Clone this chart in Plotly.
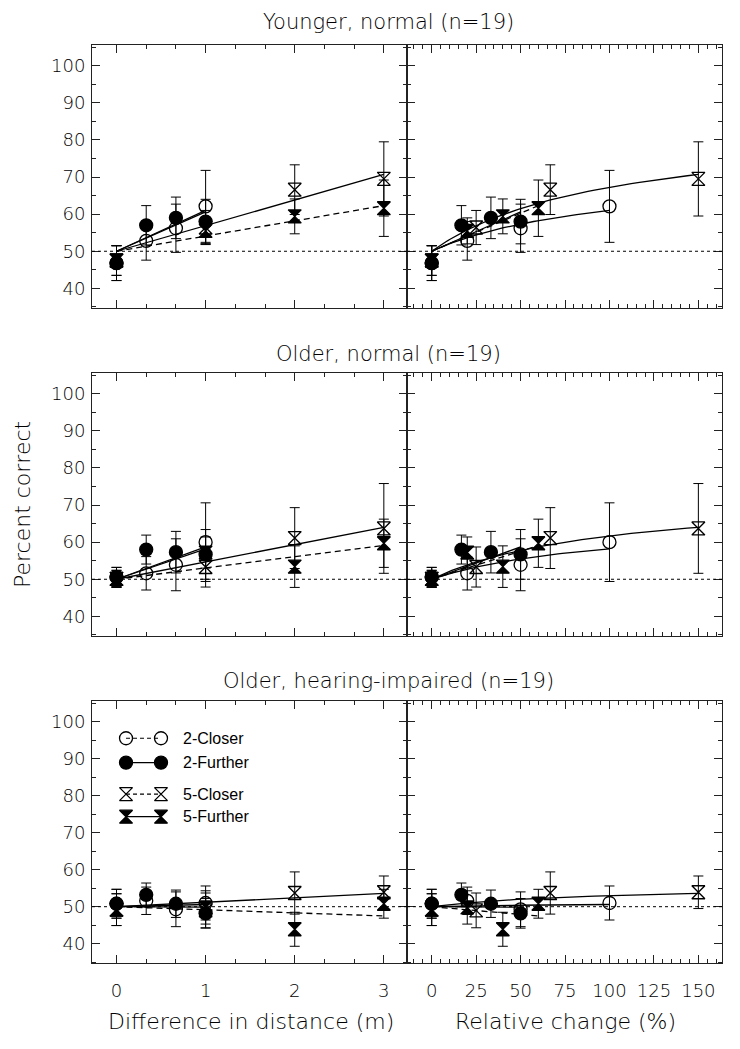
import numpy as np
import plotly.graph_objects as go

# page offset of the plot div (body margin) and figure size
OFF = 8
W, H = 740 - 2 * OFF, 1049 - 2 * OFF

# ---------------- data ----------------
GROUP_TITLES = ["Younger, normal (n=19)", "Older, normal (n=19)", "Older, hearing-impaired (n=19)"]
CONDITIONS = ["2-Closer", "2-Further", "5-Closer", "5-Further"]
CHANCE = 50

# difference in distance (m) and relative change (%) for each condition
DIST_2C = [0, 1/3, 2/3, 1]
DIST_2F = [0, 1/3, 2/3, 1]
DIST_5C = [0, 1, 2, 3]
DIST_5F = [0, 1, 2, 3]
REL_2C = [0, 20, 50, 100]
REL_2F = [0, 16.7, 33.3, 50]
REL_5C = [0, 25, 66.7, 150]
REL_5F = [0, 20, 40, 60]
REF_DIST = {"2-Closer": 2, "2-Further": 2, "5-Closer": 5, "5-Further": 5}

# Younger, normal
YN_2C = [46.8, 52.8, 56.2, 62.1]; YN_2C_ERR = [4.7, 5.2, 6.5, 9.7]
YN_2F = [46.8, 57.0, 59.0, 58.0]; YN_2F_ERR = [4.7, 5.3, 5.6, 6.0]
YN_5C = [47.5, 56.4, 66.6, 69.5]; YN_5C_ERR = [4.0, 4.6, 6.7, 10.0]
YN_5F = [47.5, 55.5, 59.4, 61.6]; YN_5F_ERR = [4.0, 3.5, 4.7, 7.6]
YN_FIT_END = [61.0, 60.6, 70.7, 62.3]

# Older, normal
ON_2C = [50.6, 51.6, 53.9, 60.0]; ON_2C_ERR = [2.6, 4.5, 7.0, 10.6]
ON_2F = [50.6, 58.0, 57.3, 56.7]; ON_2F_ERR = [2.6, 3.9, 5.6, 6.7]
ON_5C = [50.1, 53.3, 61.1, 63.7]; ON_5C_ERR = [2.3, 5.4, 8.2, 12.1]
ON_5F = [50.1, 57.2, 53.4, 59.7]; ON_5F_ERR = [2.3, 4.2, 5.6, 6.5]
ON_FIT_END = [58.2, 58.7, 64.0, 59.1]

# Older, hearing-impaired
HI_2C = [50.8, 51.6, 49.3, 51.0]; HI_2C_ERR = [3.9, 3.7, 4.7, 4.6]
HI_2F = [50.8, 53.2, 50.8, 48.2]; HI_2F_ERR = [3.9, 3.2, 3.7, 4.0]
HI_5C = [49.2, 49.0, 53.7, 53.9]; HI_5C_ERR = [4.3, 4.7, 5.7, 4.4]
HI_5F = [49.2, 49.8, 43.9, 50.8]; HI_5F_ERR = [4.3, 4.5, 4.6, 3.9]
HI_FIT_END = [50.6, 49.9, 53.6, 47.5]

LEFT_TICKS = [0, 1, 2, 3]
RIGHT_TICKS = [0, 25, 50, 75, 100, 125, 150]
Y_TICKS = [40, 50, 60, 70, 80, 90, 100]

# ---------------- assembly ----------------
DIST = {"2-Closer": DIST_2C, "2-Further": DIST_2F, "5-Closer": DIST_5C, "5-Further": DIST_5F}
REL = {"2-Closer": REL_2C, "2-Further": REL_2F, "5-Closer": REL_5C, "5-Further": REL_5F}
GROUPS = [
    {"2-Closer": (YN_2C, YN_2C_ERR), "2-Further": (YN_2F, YN_2F_ERR),
     "5-Closer": (YN_5C, YN_5C_ERR), "5-Further": (YN_5F, YN_5F_ERR), "fit": YN_FIT_END},
    {"2-Closer": (ON_2C, ON_2C_ERR), "2-Further": (ON_2F, ON_2F_ERR),
     "5-Closer": (ON_5C, ON_5C_ERR), "5-Further": (ON_5F, ON_5F_ERR), "fit": ON_FIT_END},
    {"2-Closer": (HI_2C, HI_2C_ERR), "2-Further": (HI_2F, HI_2F_ERR),
     "5-Closer": (HI_5C, HI_5C_ERR), "5-Further": (HI_5F, HI_5F_ERR), "fit": HI_FIT_END},
]

SYMBOL = {"2-Closer": "circle-open", "2-Further": "circle",
          "5-Closer": "hourglass-open", "5-Further": "hourglass"}
FIT_DASH = {"2-Closer": "solid", "2-Further": "solid", "5-Closer": "solid", "5-Further": "6px,4px"}
LEG_DASH = {"2-Closer": "4px,3px", "2-Further": "solid", "5-Closer": "4px,3px", "5-Further": "solid"}


def rel_change(cond, d):
    d0 = REF_DIST[cond]
    d = np.asarray(d, dtype=float)
    if "Closer" in cond:
        return 100 * d / (d0 - d)
    return 100 * d / d0


def fx(px):
    return (px - OFF) / W


def fy(py):
    return 1 - (py - OFF) / H


FONT = "DejaVu Sans"
INK = "#000000"
TXT = dict(family=FONT, size=21, color=INK, weight=200)
AXT = dict(family=FONT, size=22, color=INK, weight=200)

fig = go.Figure()

COL_DOM = [[fx(92), fx(407)], [fx(407), fx(722)]]
ROW_PX = [(45, 308), (373, 636), (701, 963.3)]
XL_RANGE = [-0.275, 3.26]
XR_RANGE = [-13.9, 163.3]
Y_RANGE = [34.7, 105.6]


def ax_id(p, letter):
    return letter if p == 1 else f"{letter}{p}"


layout_axes = {}
shapes = []
for gi, grp in enumerate(GROUPS):
    top_px, bot_px = ROW_PX[gi]
    ydom = [fy(bot_px), fy(top_px)]
    for c in range(2):
        p = 2 * gi + c + 1
        xa, ya = ax_id(p, "x"), ax_id(p, "y")
        common = dict(showline=True, linecolor="#222222", linewidth=1, mirror="allticks",
                      ticks="inside", ticklen=8, tickwidth=1, tickcolor="#222222",
                      showgrid=False, zeroline=False,
                      tickfont=dict(family=FONT, size=18, color=INK, weight=200))
        if c == 0:
            xcfg = dict(domain=COL_DOM[0], range=XL_RANGE, tickvals=LEFT_TICKS,
                        minor=dict(dtick=1/3, tick0=0, ticks="inside", ticklen=4, tickcolor="#222222"))
        else:
            xcfg = dict(domain=COL_DOM[1], range=XR_RANGE, tickvals=RIGHT_TICKS,
                        minor=dict(dtick=5, tick0=0, ticks="inside", ticklen=4, tickcolor="#222222"))
        xcfg.update(common)
        xcfg.update(anchor=ya, showticklabels=(gi == 2), ticklabelstandoff=11)
        ycfg = dict(domain=ydom, range=Y_RANGE, tickvals=Y_TICKS,
                    minor=dict(dtick=5, tick0=0, ticks="inside", ticklen=4, tickcolor="#222222"))
        ycfg.update(common)
        ycfg.update(anchor=xa, showticklabels=(c == 0), ticklabelstandoff=2)
        layout_axes["xaxis" if p == 1 else f"xaxis{p}"] = xcfg
        layout_axes["yaxis" if p == 1 else f"yaxis{p}"] = ycfg
        # chance line
        shapes.append(dict(type="line", xref=f"{xa} domain", x0=0, x1=1, yref=ya,
                           y0=CHANCE, y1=CHANCE, line=dict(color=INK, width=1, dash="dot")))

        # fit lines
        for ci, cond in enumerate(CONDITIONS):
            dmax = DIST[cond][-1]
            end = grp["fit"][ci]
            dd = np.linspace(0, dmax, 60)
            yy = CHANCE + (end - CHANCE) * dd / dmax
            xx = dd if c == 0 else rel_change(cond, dd)
            fig.add_trace(go.Scatter(x=xx, y=yy, mode="lines", xaxis=xa, yaxis=ya,
                                     line=dict(color=INK, width=1.3, dash=FIT_DASH[cond]),
                                     showlegend=False, hoverinfo="skip"))
        # markers
        for cond in ["5-Closer", "5-Further", "2-Closer", "2-Further"]:
            vals, errs = grp[cond]
            xs = DIST[cond] if c == 0 else REL[cond]
            fig.add_trace(go.Scatter(
                x=xs, y=vals, mode="markers", xaxis=xa, yaxis=ya, showlegend=False,
                marker=dict(symbol=SYMBOL[cond], size=13, color=INK,
                            line=dict(color=INK, width=1.3)),
                error_y=dict(type="data", array=errs, visible=True, color=INK,
                             thickness=1, width=5)))

# legend drawn inside bottom-left panel on an overlay axis pair
LEG_X = [0.108, 0.219]
LEG_Y = [0.858, 0.765, 0.645, 0.559]
LEG_TEXT_X = 0.282
layout_axes["xaxis7"] = dict(overlaying="x5", range=[0, 1], visible=False, anchor="y7")
layout_axes["yaxis7"] = dict(overlaying="y5", range=[0, 1], visible=False, anchor="x7")
annotations = []
for cond, ly in zip(CONDITIONS, LEG_Y):
    fig.add_trace(go.Scatter(x=LEG_X, y=[ly, ly], mode="lines+markers", xaxis="x7", yaxis="y7",
                             showlegend=False, hoverinfo="skip",
                             line=dict(color=INK, width=1.2, dash=LEG_DASH[cond]),
                             marker=dict(symbol=SYMBOL[cond], size=13, color=INK,
                                         line=dict(color=INK, width=1.3))))
    annotations.append(dict(text=cond, xref="x5 domain", yref="y5 domain", x=LEG_TEXT_X, y=ly,
                            xanchor="left", yanchor="middle", showarrow=False,
                            font=dict(family="Liberation Sans", size=16, color=INK)))

# panel titles
TITLE_Y_PX = [22, 354, 681]
for t, ypx in zip(GROUP_TITLES, TITLE_Y_PX):
    annotations.append(dict(text=t, xref="paper", yref="paper", x=fx(388), y=fy(ypx),
                            xanchor="center", yanchor="middle", showarrow=False, font=TXT))
# axis titles
annotations.append(dict(text="Difference in distance (m)", xref="paper", yref="paper",
                        x=fx(251), y=fy(1021), xanchor="center", yanchor="middle",
                        showarrow=False, font=AXT))
annotations.append(dict(text="Relative change (%)", xref="paper", yref="paper",
                        x=fx(565), y=fy(1021), xanchor="center", yanchor="middle",
                        showarrow=False, font=AXT))
annotations.append(dict(text="Percent correct", xref="paper", yref="paper",
                        x=fx(22), y=fy(505), xanchor="center", yanchor="middle",
                        textangle=-90, showarrow=False, font=AXT))

fig.update_layout(width=W, height=H, margin=dict(l=0, r=0, t=0, b=0),
                  paper_bgcolor="white", plot_bgcolor="white",
                  shapes=shapes, annotations=annotations, **layout_axes)

fig.write_html("out.html")
